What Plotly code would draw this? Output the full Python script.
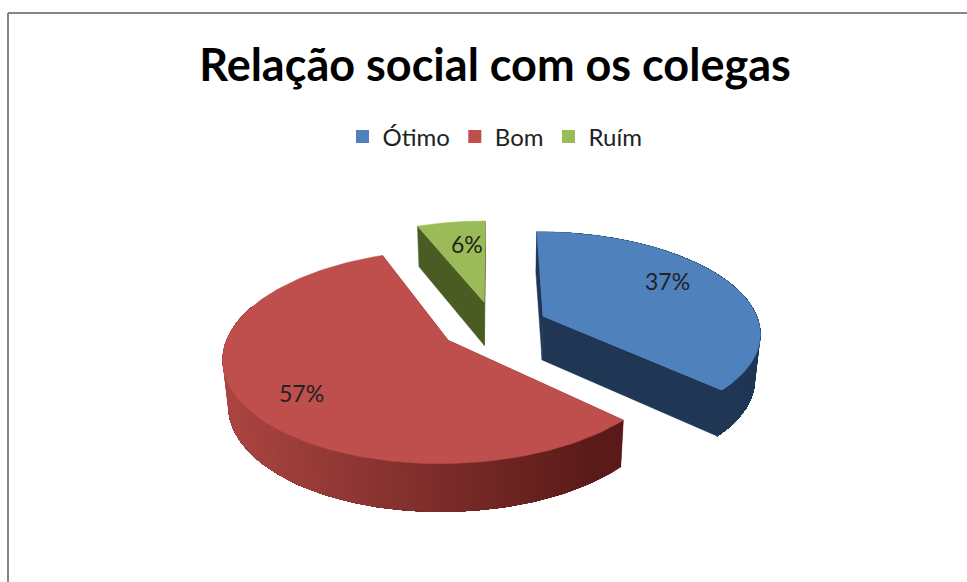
import numpy as np
import plotly.graph_objects as go

# Chart data
categories = ["Ótimo", "Bom", "Ruím"]
percentages = [37, 57, 6]

# Colours for the top faces, cut faces and rim shading
top_colors = ["#4f81bd", "#bf4f4c", "#9bbb59"]
cut_colors = ["#1f3655", "#6b2422", "#4a5c22"]
rim_start = ["#1f3655", "#5a1a18", "#4a5c22"]   # at the front-right of the rim
rim_end = ["#1f3655", "#a94441", "#4a5c22"]     # towards the left of the rim

# Tilted disc: centre, radii, perspective, thickness and slice explosion
CX, CY = 494, 326
RX, RY = 217, 100
PERSP = 0.15
THICK = 44
TAPER = 0.02
PULL = 0.25
W, H = 967, 582


def project(X, Y, z=0.0):
    """Map disc-plane coordinates to page coordinates with a simple perspective."""
    X, Y = np.asarray(X, float), np.asarray(Y, float)
    w = 1 + PERSP * Y
    return CX + RX * X / w * (1 - TAPER * z), CY - RY * Y / w + z * THICK / np.sqrt(w)


def mix(c1, c2, f):
    a = [int(c1[i:i + 2], 16) for i in (1, 3, 5)]
    b = [int(c2[i:i + 2], 16) for i in (1, 3, 5)]
    return "#" + "".join(f"{round(p + (q - p) * f):02x}" for p, q in zip(a, b))


def poly(fig, xs, ys, color, width=0.5):
    xs, ys = list(xs), list(ys)
    fig.add_trace(go.Scatter(
        x=xs + [xs[0]], y=ys + [ys[0]], mode="lines",
        fill="toself", fillcolor=color, line=dict(color=color, width=width),
        hoverinfo="skip", showlegend=False))


def wedge(fig, start, end, color_idx):
    mid = (start + end) / 2
    ox, oy = PULL * np.sin(mid), PULL * np.cos(mid)
    t = np.linspace(start, end, 145)
    rim_x, rim_y = ox + np.sin(t), oy + np.cos(t)

    # Cut faces, from the centre of the disc out to each end of the arc
    for i in (0, -1):
        ex, ey = [ox, rim_x[i]], [oy, rim_y[i]]
        x0, y0 = project(ex, ey, 0)
        x1, y1 = project(ex, ey, 1)
        poly(fig, [x0[0], x0[1], x1[1], x1[0]], [y0[0], y0[1], y1[1], y1[0]], cut_colors[color_idx])

    # Rim: each band runs to the end of the visible arc, and the next one paints
    # over it, so neighbouring shades never leave a seam
    x0, y0 = project(rim_x, rim_y, 0)
    x1, y1 = project(rim_x, rim_y, 1)
    mids = (t[:-1] + t[1:]) / 2
    visible = [i for i, m in enumerate(mids) if not (np.cos(m) > 0.35 and np.sin(m) < 0)]
    if visible:
        last = visible[-1] + 1
        for i in visible:
            f = np.clip((x0[i] - 600) / (235 - 600), 0, 1)
            poly(fig, np.r_[x0[i:last + 1], x1[i:last + 1][::-1]],
                 np.r_[y0[i:last + 1], y1[i:last + 1][::-1]],
                 mix(rim_start[color_idx], rim_end[color_idx], f), width=0)

    # Top face
    tx, ty = project(np.r_[ox, rim_x], np.r_[oy, rim_y], 0)
    poly(fig, tx, ty, top_colors[color_idx])


fig = go.Figure()

# Slices run clockwise from twelve o'clock; the back slice is drawn first
total = sum(percentages)
edges = 2 * np.pi * np.cumsum([0] + percentages) / total
for idx in (2, 0, 1):
    wedge(fig, edges[idx], edges[idx + 1], idx)

# Legend entries
for name, color in zip(categories, top_colors):
    fig.add_trace(go.Scatter(
        x=[None], y=[None], mode="markers", name=name,
        marker=dict(symbol="square", size=13, color=color)))

# Percentage labels
label_x = [667, 301, 467]
label_y = [281, 393, 244]
for v, lx, ly in zip(percentages, label_x, label_y):
    fig.add_annotation(x=lx, y=ly, text=f"{v}%", showarrow=False,
                       font=dict(family="Lato, sans-serif", size=23, color="#222222"))

fig.update_layout(
    width=W, height=H, autosize=False,
    margin=dict(l=0, r=0, t=0, b=0),
    paper_bgcolor="white", plot_bgcolor="white",
    xaxis=dict(range=[0, W], visible=False, fixedrange=True),
    yaxis=dict(range=[H, 0], visible=False, fixedrange=True),
    title=dict(text="<b>Relação social com os colegas</b>", x=495 / W, y=1 - 65 / H,
               xanchor="center", yanchor="middle",
               font=dict(family="Lato, sans-serif", size=45, color="black")),
    legend=dict(orientation="h", x=495 / W, y=1 - 137 / H, xanchor="center", yanchor="middle",
                font=dict(family="Lato, sans-serif", size=24, color="#222222"),
                bgcolor="rgba(0,0,0,0)"),
    shapes=[
        dict(type="line", x0=8, x1=W, y0=13, y1=13, line=dict(color="#858585", width=2)),
        dict(type="line", x0=8, x1=8, y0=13, y1=H, line=dict(color="#858585", width=2)),
    ],
)

fig.write_html("out.html")
